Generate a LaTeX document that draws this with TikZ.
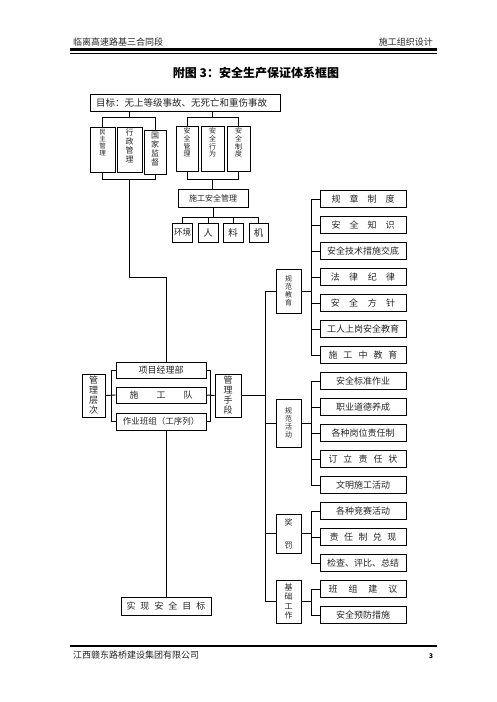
\documentclass[tikz,border=0pt]{standalone}
\usepackage{fontspec}
\setmainfont{Noto Sans CJK SC}
\usetikzlibrary{calc}
\newcommand\hs[1]{\hspace{#1pt}}
\newcommand\vbx[5]{\parbox[c][#1pt][#2]{14pt}{\centering\fontsize{#3}{#4}\selectfont #5}}
\tikzset{
  box/.style={draw, line width=0.9pt, inner sep=0pt, align=center, text=black!85, font=\fontsize{9.5}{11}\selectfont},
  rbox/.style={box, minimum width=86, minimum height=17, font=\fontsize{9}{10}\selectfont},
  cbox/.style={box, minimum width=25},
  ln/.style={line width=0.9pt}
}
\begin{document}
\begin{tikzpicture}[x=1pt,y=-1pt]
\useasboundingbox (0,0) rectangle (496,702);
% header / footer
\node[anchor=west, inner sep=0, text=black!85, font=\fontsize{9}{9}\selectfont] (h1) at (73,42) {临离高速路基三合同段};
\node[anchor=east, inner sep=0, text=black!85, font=\fontsize{9}{9}\selectfont] (h2) at (433,42) {施工组织设计};
\draw[line width=2.2pt] (70,49.5) -- (437,49.5);
\draw[line width=0.7pt] (70,53.2) -- (437,53.2);
\node[inner sep=0, font=\bfseries\fontsize{12}{12}\selectfont] (title) at (256,73) {附图 3：安全生产保证体系框图};
\draw[line width=2.2pt] (70,646) -- (437,646);
\node[anchor=west, inner sep=0, text=black!85, font=\fontsize{9}{9}\selectfont] (f1) at (73,655) {江西赣东路桥建设集团有限公司};
\node[inner sep=0, font=\bfseries\fontsize{6.5}{6.5}\selectfont] (pg) at (431,656) {3};

% goal
\node[box, minimum height=17, text width=178, inner xsep=6pt, align=left] (goal) at (185,102.5) {目标：无上等级事故、无死亡和重伤事故};
% top boxes
\node[box, minimum width=25, minimum height=45] (mz) at (102.5,149.5) {\vbx{41}{t}{6.5}{7}{民\\主\\管\\理}};
\node[box, minimum width=25, minimum height=45] (xz) at (129.5,149.5) {\vbx{41}{t}{8}{9}{行\\政\\管\\理}};
\node[box, minimum width=22, minimum height=44] (gj) at (155,152) {\vbx{40}{t}{8}{9}{国\\家\\监\\督}};
\node[box, minimum width=22, minimum height=45] (aq1) at (187,148.5) {\vbx{41}{t}{7}{7.6}{安\\全\\管\\理}};
\node[box, minimum width=23, minimum height=45] (aq2) at (212.5,148.5) {\vbx{41}{t}{7}{7.6}{安\\全\\行\\为}};
\node[box, minimum width=23, minimum height=45] (aq3) at (238.5,148.5) {\vbx{41}{t}{7}{7.6}{安\\全\\制\\度}};
\coordinate (tb) at (0,117.5);
\coordinate (bb) at (0,179);
\draw[ln] (mz.north) -- (mz.north |- tb) -- (gj.north |- tb) -- (gj.north);
\draw[ln] (goal.south -| xz.north) -- (xz.north |- tb);
\draw[ln] (aq1.north) -- (aq1.north |- tb) -- (aq3.north |- tb) -- (aq3.north);
\draw[ln] (goal.south -| aq2.north) -- (aq2.north |- tb);
\draw[ln] (mz.south) -- (mz.south |- bb) -- (gj.south |- bb) -- (gj.south);
\draw[ln] (aq1.south) -- (aq1.south |- bb) -- (aq3.south |- bb) -- (aq3.south);

% construction safety management
\node[box, minimum width=70, minimum height=18, font=\fontsize{8}{9}\selectfont] (sgaq) at (213,198) {施工安全管理};
\draw[ln] (aq2.south |- bb) -- (aq2.south |- sgaq.north);
\node[box, minimum width=20, minimum height=19, font=\fontsize{8.5}{9}\selectfont] (hj) at (182.5,232.5) {环境};
\node[box, minimum width=20, minimum height=19] (ren) at (208,232.5) {人};
\node[box, minimum width=20, minimum height=19] (liao) at (233,232.5) {料};
\node[box, minimum width=19, minimum height=19] (ji) at (258.5,232.5) {机};
\coordinate (fb) at (0,217);
\draw[ln] (hj.north) -- (hj.north |- fb) -- (ji.north |- fb) -- (ji.north);
\draw[ln] (ren.north) -- (ren.north |- fb);
\draw[ln] (liao.north) -- (liao.north |- fb);
\draw[ln] (sgaq.south) -- (sgaq.south |- fb);

% management levels
\node[box, minimum width=23, minimum height=43] (glcc) at (93.5,395.5) {\vbx{40}{c}{9}{10}{管\\理\\层\\次}};
\node[box, minimum width=90, minimum height=16, font=\fontsize{9}{10}\selectfont] (xmjl) at (161,370) {项目经理部};
\node[box, minimum width=90, minimum height=16, font=\fontsize{9}{10}\selectfont] (sgd) at (161,395) {施\hs{18}工\hs{18}队};
\node[box, minimum width=90, minimum height=17, font=\fontsize{8.5}{10}\selectfont] (zybz) at (161,421.5) {作业班组（工序列）};
\node[box, minimum width=26, minimum height=43] (glsd) at (228,395.5) {\vbx{40}{c}{9}{10}{管\\理\\手\\段}};
\node[box, minimum width=90, minimum height=18, font=\fontsize{9}{10}\selectfont] (sxmb) at (166,606) {实\hs{5}现\hs{5}安\hs{5}全\hs{5}目\hs{5}标};
\coordinate (lbx) at (111,0);
\coordinate (rbx) at (210,0);
\coordinate (tk) at (166,277);
\draw[ln] (xmjl.west) -- (xmjl.west -| lbx) -- (zybz.west -| lbx) -- (zybz.west);
\draw[ln] (glcc.east) -- (sgd.west);
\draw[ln] (xmjl.east) -- (xmjl.east -| rbx) -- (zybz.east -| rbx) -- (zybz.east);
\draw[ln] (sgd.east) -- (glsd.west);
\draw[ln] (xz.south |- bb) -- (xz.south |- tk) -- (tk) -- (xmjl.north -| tk);
\draw[ln] (zybz.south -| sxmb.north) -- (sxmb.north);

% right column
\foreach \t [count=\i from 0] in {
  规\hs{9}章\hs{9}制\hs{9}度,
  安\hs{9}全\hs{9}知\hs{9}识,
  安全技术措施交底,
  法\hs{9.5}律\hs{9.5}纪\hs{9.5}律,
  安\hs{9.5}全\hs{9.5}方\hs{9.5}针,
  工人上岗安全教育,
  施\hs{6}工\hs{6}中\hs{6}教\hs{6}育,
  安全标准作业,
  职业道德养成,
  各种岗位责任制,
  订\hs{6}立\hs{6}责\hs{6}任\hs{6}状,
  文明施工活动,
  各种竞赛活动,
  责\hs{5.5}任\hs{5.5}制\hs{5.5}兑\hs{5.5}现,
  检查、评比、总结,
  班\hs{11}组\hs{11}建\hs{11}议,
  安全预防措施}
  \node[rbox] (r\i) at (363,{199+26*\i}) {\t};

\node[cbox, minimum height=44] (gfjy) at (288.5,291) {\vbx{40}{c}{7}{8}{规\\范\\教\\育}};
\node[cbox, minimum height=48] (gfhd) at (288.5,423) {\vbx{44}{c}{7}{8}{规\\范\\活\\动}};
\node[cbox, minimum height=39] (jf) at (288.5,533.5) {\vbx{36}{c}{8}{23}{奖\\罚}};
\node[cbox, minimum height=43] (jcgz) at (288.5,601.5) {\vbx{40}{c}{8}{9.5}{基\\础\\工\\作}};

\coordinate (sx) at (311,0);
\coordinate (mx) at (265,0);
\foreach \i in {0,...,16} \draw[ln] (r\i.west) -- (r\i.west -| sx);
\draw[ln] (r0.west -| sx) -- (r6.west -| sx);
\draw[ln] (r7.west -| sx) -- (r11.west -| sx);
\draw[ln] (r12.west -| sx) -- (r14.west -| sx);
\draw[ln] (r15.west -| sx) -- (r16.west -| sx);
\draw[ln] (gfjy.east) -- (gfjy.east -| sx);
\draw[ln] (gfhd.east) -- (gfhd.east -| sx);
\draw[ln] (jf.east) -- (jf.east -| sx);
\draw[ln] (jcgz.east) -- (jcgz.east -| sx);
\draw[ln] (gfjy.west) -- (gfjy.west -| mx) -- (jcgz.west -| mx) -- (jcgz.west);
\draw[ln] (gfhd.west) -- (gfhd.west -| mx);
\draw[ln] (jf.west) -- (jf.west -| mx);
\draw[ln] (glsd.east) -- (glsd.east -| mx);
\end{tikzpicture}
\end{document}
